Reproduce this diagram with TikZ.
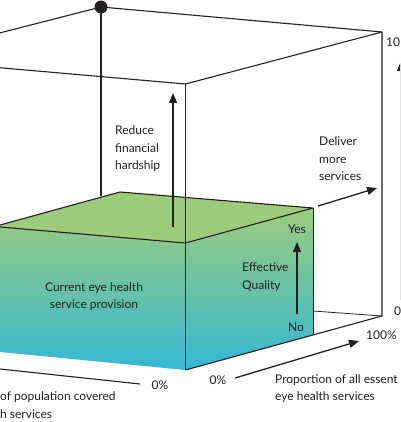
\documentclass[tikz,border=0pt]{standalone}
\usepackage{fontspec}
\setmainfont{Lato}
\usetikzlibrary{arrows.meta}
\definecolor{ink}{RGB}{35,31,32}
\definecolor{topgreen}{RGB}{157,203,124}
\definecolor{midteal}{RGB}{112,192,162}
\definecolor{botcyan}{RGB}{52,184,212}
\tikzset{
  edge/.style={draw=ink,line width=1.1pt,line join=round},
  thinedge/.style={draw=ink,line width=0.8pt},
  arr/.style={draw=ink,line width=1.3pt,-{Triangle[length=10pt,width=8pt]}},
  lbl/.style={text=ink,inner sep=0pt,font=\fontsize{12}{17.5}\selectfont},
}
\begin{document}
\begin{tikzpicture}[x=1pt,y=-1pt]
\useasboundingbox (0,0) rectangle (400,422);
\clip (0,0) rectangle (400,422);
% cube vertices
\coordinate (dot) at (101,7);
\coordinate (tbl) at (-20,38);
\coordinate (tbr) at (382,32);
\coordinate (tfl) at (-20,66);
\coordinate (tfr) at (185.5,84);
\coordinate (bfr) at (185.5,370);
\coordinate (bbr) at (382,316);
\coordinate (bbx) at (313,311);
\coordinate (blh) at (101,196);
% green box vertices
\coordinate (gfl) at (-5.5,226.5);
\coordinate (gbl) at (120,192);
\coordinate (gbr) at (313,208);
\coordinate (gfr) at (185.5,243);
\coordinate (gbrb) at (313,335);
\coordinate (gflb) at (-5.5,351.5);
% green box faces
\shade[top color=topgreen,middle color=midteal,bottom color=botcyan]
  (gfl) -- (gfr) -- (gbr) -- (gbrb) -- (bfr) -- (gflb) -- cycle;
\fill[topgreen] (gfl) -- (gbl) -- (gbr) -- (gfr) -- cycle;
% cube edges
\draw[edge] (dot) -- (tbl);
\draw[edge] (dot) -- (tbr);
\draw[edge] (tfl) -- (tfr) -- (tbr);
\draw[edge] (tbr) -- (bbr) -- (bfr);
\draw[thinedge] (bbr) -- (bbx);
\draw[edge] (dot) -- (blh);
% green box edges
\draw[edge] (gfl) -- (gbl) -- (gbr) -- (gfr) -- cycle;
\draw[thinedge] (gbr) -- (gbrb);
\draw[edge] (tfr) -- (bfr);
\fill[ink] (dot) circle (6.5);
% labels
\node[lbl,anchor=west,align=left] (reduce) at (115,149) {Reduce\\financial\\hardship};
\node[lbl,anchor=west,align=left] (deliver) at (319,159) {Deliver\\more\\services};
\node[lbl,anchor=west,align=left] (eq) at (242,277) {Effective\\Quality};
\node[lbl,align=center] (current) at (94,296.5) {Current eye health\\service provision};
\node[lbl] (yes) at (297,229) {Yes};
\node[lbl] (no) at (296,327) {No};
\node[lbl] (zl) at (160,385) {0\%};
\node[lbl] (zr) at (218,380) {0\%};
\node[lbl,anchor=west] (hund) at (366,335) {100\%};
\node[lbl,anchor=west] (ten) at (386,42) {10};
\node[lbl,anchor=west] (zero) at (394,311) {0};
\node[lbl,anchor=west,align=left] (popl) at (0,405) {of population covered\\h services};
\node[lbl,anchor=west,align=left] (propl) at (275,388.5) {Proportion of all essent\\eye health services};
% arrows
\coordinate (ra0) at (173,227);
\coordinate (ra1) at (173,93);
\draw[arr] (ra0) -- (ra1);
\coordinate (da0) at (318,206);
\coordinate (da1) at (377,188);
\draw[arr] (da0) -- (da1);
\coordinate (ea0) at (297,314);
\coordinate (ea1) at (297,242);
\draw[arr] (ea0) -- (ea1);
\coordinate (ba0) at (235,378);
\coordinate (ba1) at (359,341);
\draw[arr] (ba0) -- (ba1);
\coordinate (ax0) at (401,300);
\coordinate (ax1) at (401,61);
\draw[arr] (ax0) -- (ax1);
\coordinate (bl0) at (0,369);
\coordinate (bl1) at (140,384);
\draw[edge] (bl0) -- (bl1);
\end{tikzpicture}
\end{document}
